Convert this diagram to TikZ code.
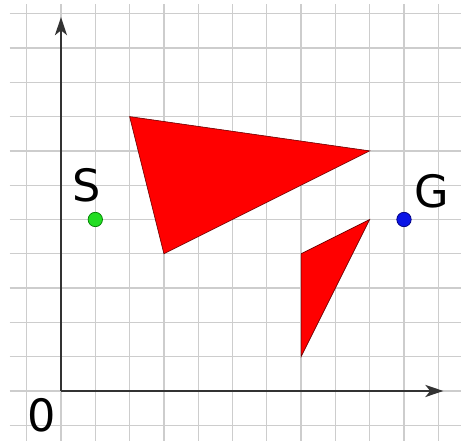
\documentclass[tikz,border=0pt]{standalone}
\usepackage{fontspec}
\setsansfont{DejaVu Sans}
\usepackage{tikz}
\usetikzlibrary{arrows.meta, positioning}
\definecolor{gridgray}{HTML}{CDCDCD}
\definecolor{axisdark}{HTML}{333333}
\definecolor{obstred}{HTML}{FF0000}
\definecolor{startgreen}{HTML}{22DD22}
\definecolor{goalblue}{HTML}{0A14E6}

\begin{document}
\begin{tikzpicture}[
  gridline/.style={draw=gridgray, line width=1.1pt},
  axis/.style={-{Stealth[length=15pt, width=10pt, inset=4pt]}, draw=axisdark, line width=1.5pt},
  obstacle/.style={fill=obstred, draw=black!60!red, line width=0.5pt},
  pointdot/.style={circle, minimum size=0.42cm, inner sep=0pt, line width=0.6pt},
  biglabel/.style={inner sep=0pt, text=black, font=\sffamily\fontsize{37}{40}\selectfont}
]
  \useasboundingbox (-1.778,-1.458) rectangle (11.662,11.399);
  \draw[gridline] (-1.5,-1.46) grid (11.66,11.28);

  % axes
  \coordinate (O) at (0,0);
  \coordinate (xend) at (11.15,0);
  \coordinate (yend) at (0,10.9);
  \draw[axis] (O) -- (xend);
  \draw[axis] (O) -- (yend);
  \node[biglabel] (zero) at (-0.55,-0.72) {0};

  % obstacles
  \draw[obstacle] (2,8) -- (9,7) -- (3,4) -- cycle;
  \draw[obstacle] (9,5) -- (7,4) -- (7,1) -- cycle;

  % start and goal
  \node[pointdot, fill=startgreen, draw=green!50!black] (S) at (1,5) {};
  \node[pointdot, fill=goalblue, draw=blue!50!black] (G) at (10,5) {};
  \node[biglabel] (Slabel) at (0.76,6.0) {S};
  \node[biglabel] (Glabel) at (10.8,5.82) {G};
\end{tikzpicture}
\end{document}
